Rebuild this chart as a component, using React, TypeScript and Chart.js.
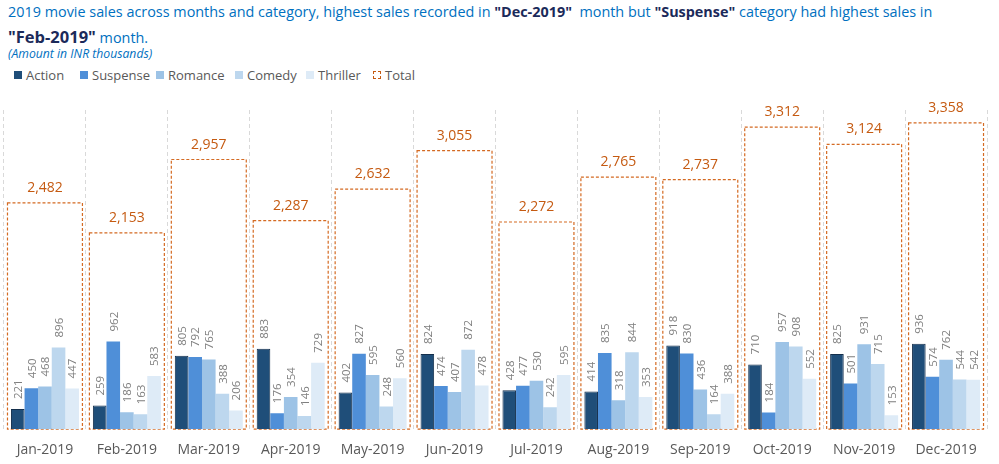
import React, { useEffect, useRef } from "react";
import { Chart, registerables } from "chart.js";
Chart.register(...registerables);

const months = ["Jan-2019", "Feb-2019", "Mar-2019", "Apr-2019", "May-2019", "Jun-2019", "Jul-2019", "Aug-2019", "Sep-2019", "Oct-2019", "Nov-2019", "Dec-2019"];
const action = [221, 259, 805, 883, 402, 824, 428, 414, 918, 710, 825, 936];
const suspense = [450, 962, 792, 176, 827, 474, 477, 835, 830, 184, 501, 574];
const romance = [468, 186, 765, 354, 595, 407, 530, 318, 436, 957, 931, 762];
const comedy = [896, 163, 388, 146, 248, 872, 242, 844, 164, 908, 715, 544];
const thriller = [447, 583, 206, 729, 560, 478, 595, 353, 388, 552, 153, 542];
const totals = [2482, 2153, 2957, 2287, 2632, 3055, 2272, 2765, 2737, 3312, 3124, 3358];

const seriesNames = ["Action", "Suspense", "Romance", "Comedy", "Thriller"];
const seriesColors = ["#1F4E79", "#4F8FD8", "#9DC3E6", "#BDD7EE", "#DEEBF7"];
const seriesBorders = ["#142F4C", "#4F8FD8", "#9DC3E6", "#BDD7EE", "#DEEBF7"];
const totalColor = "#C55A11";
const FONT = "'Open Sans', 'Noto Sans', sans-serif";

const labelPlugin = {
  id: "valueLabels",
  afterDatasetDraw(chart: any, args: any) {
    const ds = chart.data.datasets[args.index];
    if (ds.label !== "Total") return;
    const ctx = chart.ctx;
    ctx.save();
    ctx.setLineDash([3, 2]);
    ctx.strokeStyle = "#D46A22";
    ctx.lineWidth = 1.2;
    args.meta.data.forEach((el: any) => {
      const p = el.getProps(["x", "y", "base", "width"], true);
      ctx.strokeRect(p.x - p.width / 2, p.y, p.width, p.base - p.y);
    });
    ctx.setLineDash([]);
    ctx.fillStyle = totalColor;
    ctx.font = `14px ${FONT}`;
    ctx.textAlign = "center";
    ctx.textBaseline = "middle";
    args.meta.data.forEach((el: any, i: number) => {
      const p = el.getProps(["x", "y"], true);
      ctx.fillText(totals[i].toLocaleString("en-US"), p.x, p.y - 15);
    });
    ctx.restore();
  },
  afterDatasetsDraw(chart: any) {
    const ctx = chart.ctx;
    ctx.save();
    ctx.fillStyle = "#7F7F7F";
    ctx.font = `11.5px ${FONT}`;
    ctx.textAlign = "left";
    ctx.textBaseline = "middle";
    chart.data.datasets.forEach((ds: any, di: number) => {
      if (ds.label === "Total") return;
      const meta = chart.getDatasetMeta(di);
      meta.data.forEach((el: any, i: number) => {
        const p = el.getProps(["x", "y"], true);
        ctx.save();
        ctx.translate(p.x + 1, p.y - 10);
        ctx.rotate(-Math.PI / 2);
        ctx.fillText(String(ds.data[i]), 0, 0);
        ctx.restore();
      });
    });
    ctx.restore();
  },
};

export default function App() {
  const ref = useRef<HTMLCanvasElement>(null);
  useEffect(() => {
    if (!ref.current) return;
    const seriesData = [action, suspense, romance, comedy, thriller];
    const datasets: any[] = seriesNames.map((name, k) => ({
      label: name,
      data: seriesData[k],
      backgroundColor: seriesColors[k],
      borderColor: seriesBorders[k],
      borderWidth: k === 0 ? 1 : 0,
      categoryPercentage: 0.83,
      barPercentage: 1,
      order: 1,
    }));
    datasets.push({
      label: "Total",
      data: totals,
      backgroundColor: "#FFFFFF",
      borderWidth: 0,
      grouped: false,
      categoryPercentage: 0.915,
      barPercentage: 1,
      order: 10,
    });
    const chart = new Chart(ref.current, {
      type: "bar",
      data: { labels: months, datasets },
      options: {
        animation: false,
        responsive: false,
        maintainAspectRatio: false,
        layout: { padding: { top: 20, left: 4, right: 12, bottom: -6 } },
        plugins: { legend: { display: false }, tooltip: { enabled: false } },
        scales: {
          x: {
            grid: { display: true, color: "#D9D9D9", drawTicks: false, offset: true },
            border: { display: false, dash: [4, 3] },
            ticks: { color: "#595959", font: { family: FONT, size: 14 }, padding: 12, maxRotation: 0 },
          },
          y: { display: false, min: 0, max: 3500 },
        },
      },
      plugins: [labelPlugin],
    });
    return () => chart.destroy();
  }, []);

  const legendItems = [
    { name: "Action", left: 14, color: seriesColors[0], border: "none" },
    { name: "Suspense", left: 80, color: seriesColors[1], border: "none" },
    { name: "Romance", left: 156, color: seriesColors[2], border: "none" },
    { name: "Comedy", left: 235, color: seriesColors[3], border: "none" },
    { name: "Thriller", left: 306, color: seriesColors[4], border: "none" },
    { name: "Total", left: 373, color: "#FFFFFF", border: `1px dashed ${totalColor}` },
  ];
  const bold: React.CSSProperties = { color: "#1B2A5A", fontWeight: 700 };

  return (
    <div style={{ position: "absolute", left: 0, top: 0, width: 999, height: 464, background: "#fff", fontFamily: FONT }}>
      <div style={{ position: "absolute", left: 8, top: -1, whiteSpace: "nowrap", fontSize: 14.4, lineHeight: "25px", color: "#0070C0" }}>
        2019 movie sales across months and category, highest sales recorded in <span style={bold}>"Dec-2019"</span>&nbsp; month but <span style={bold}>"Suspense"</span> category had highest sales in
        <br />
        <span style={{ ...bold, fontSize: 16.5 }}>"Feb-2019"</span> month.
      </div>
      <div style={{ position: "absolute", left: 8, top: 46, fontSize: 12.2, lineHeight: "16px", fontStyle: "italic", color: "#0070C0" }}>
        (Amount in INR thousands)
      </div>
      {legendItems.map((it) => (
        <div key={it.name} style={{ position: "absolute", left: it.left, top: 66, height: 18, display: "flex", alignItems: "center", fontSize: 13, color: "#595959", whiteSpace: "nowrap" }}>
          <span style={{ display: "inline-block", width: 8, height: 8, background: it.color, border: it.border, boxSizing: "border-box", marginRight: 4 }} />
          {it.name}
        </div>
      ))}
      <canvas ref={ref} width={999} height={374} style={{ position: "absolute", left: 0, top: 90, width: 999, height: 374 }} />
    </div>
  );
}
